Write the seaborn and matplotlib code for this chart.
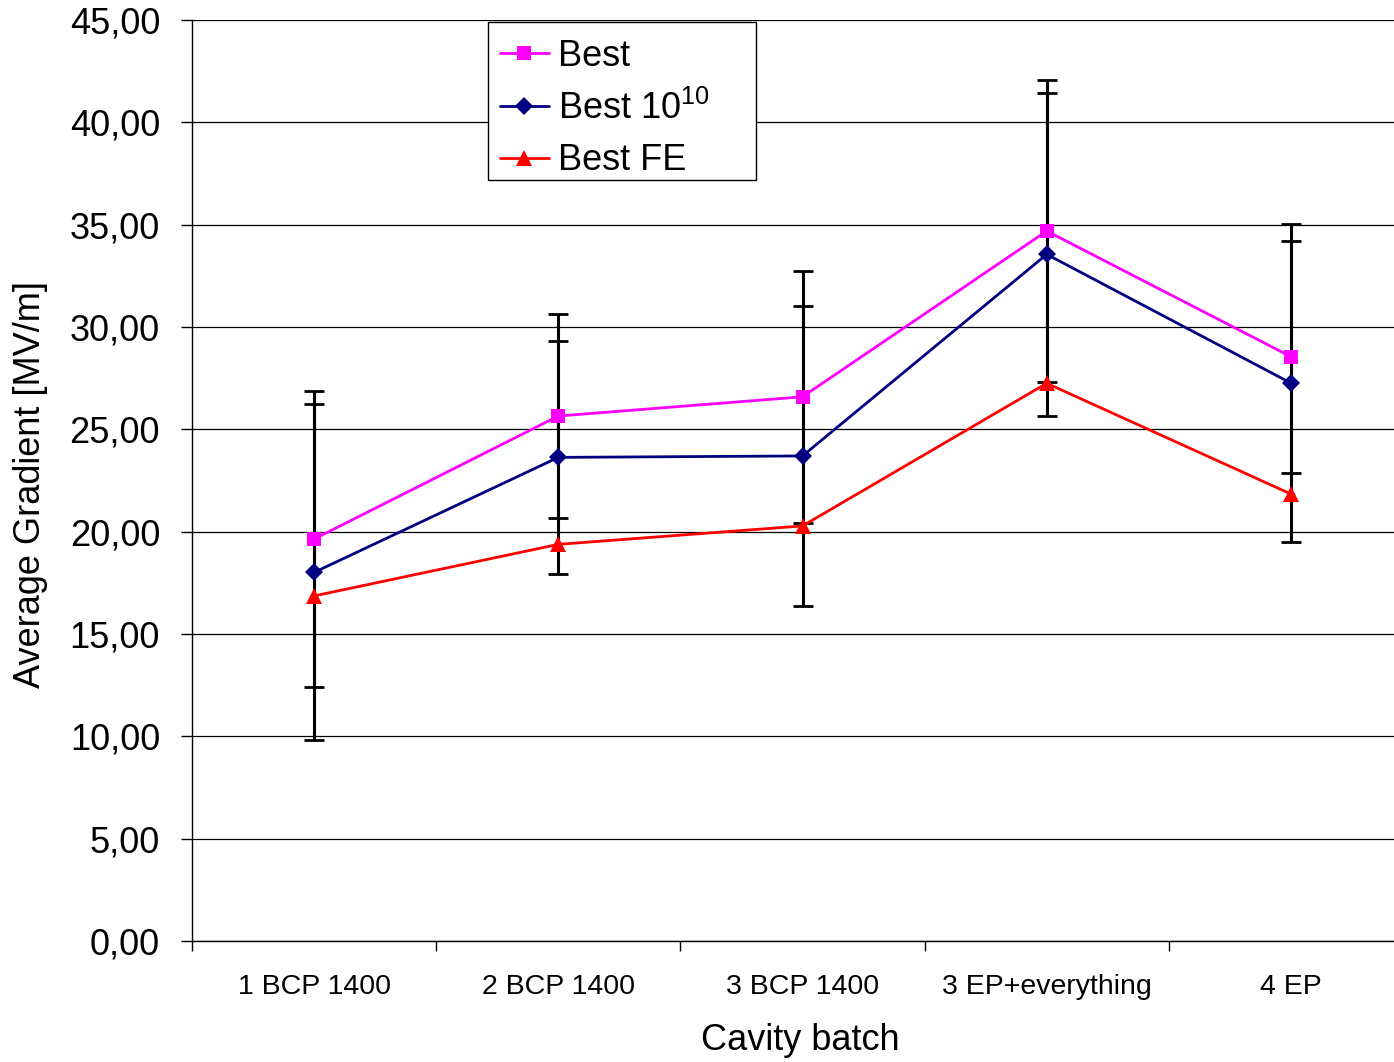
import numpy as np
import pandas as pd
import matplotlib
matplotlib.use("Agg")
import matplotlib.pyplot as plt
from matplotlib.patches import Rectangle
import seaborn as sns

categories = ["1 BCP 1400", "2 BCP 1400", "3 BCP 1400", "3 EP+everything", "4 EP"]
best = [19.64, 25.65, 26.59, 34.69, 28.55]
best_1010 = [18.01, 23.63, 23.70, 33.55, 27.26]
best_fe = [16.86, 19.38, 20.28, 27.25, 21.84]
err_best = [7.22, 4.97, 6.15, 7.37, 5.66]
err_best_1010 = [8.21, 5.69, 7.35, 7.90, 7.75]
series_names = ["Best", "Best 10$^{10}$", "Best FE"]
yticks = [0, 5, 10, 15, 20, 25, 30, 35, 40, 45]

sns.set_theme(style="white")
plt.rcParams["font.family"] = ["Liberation Sans", "DejaVu Sans"]
plt.rcParams["mathtext.fontset"] = "custom"
plt.rcParams["mathtext.rm"] = "Liberation Sans"
plt.rcParams["mathtext.it"] = "Liberation Sans"
plt.rcParams["text.color"] = "black"
plt.rcParams["axes.labelcolor"] = "black"
plt.rcParams["xtick.color"] = "black"
plt.rcParams["ytick.color"] = "black"

df = pd.DataFrame({
    "batch": categories * 3,
    "value": best + best_1010 + best_fe,
    "series": [series_names[0]] * 5 + [series_names[1]] * 5 + [series_names[2]] * 5,
})

W, H = 1394, 1062
L, R, T, B = 192, 1413, 20, 941
fig = plt.figure(figsize=(W / 100, H / 100), dpi=100)
ax = fig.add_axes([L / W, 1 - B / H, (R - L) / W, (B - T) / H])
aw, ah = R - L, B - T

pos = np.arange(len(categories))
for vals, errs in [(best, err_best), (best_1010, err_best_1010)]:
    ax.errorbar(pos, vals, yerr=errs, fmt="none", ecolor="black", elinewidth=2.2,
                capsize=7, capthick=2.0, zorder=2)

palette = {series_names[0]: "#FF00FF", series_names[1]: "#000080", series_names[2]: "#FF0000"}
markers = {series_names[0]: "s", series_names[1]: "D", series_names[2]: "^"}
sns.lineplot(data=df, x="batch", y="value", hue="series", style="series",
             palette=palette, markers=markers, dashes=False, linewidth=2.0,
             markersize=10.5, markeredgewidth=0, sort=False, ax=ax, zorder=3)

for line in ax.get_lines():
    if line.get_marker() == "D":
        line.set_markersize(9)
    elif line.get_marker() == "^":
        line.set_markersize(11.5)

ax.set_xlim(-0.5, len(categories) - 0.5)
ax.set_ylim(0, 45)
ax.set_yticks(yticks)
ax.set_yticklabels([f"{v:.2f}".replace(".", ",") for v in yticks], fontsize=26)
ax.yaxis.grid(True, color="black", linewidth=0.9)
ax.xaxis.grid(False)
ax.set_axisbelow(True)

ax.set_xticks(np.arange(-0.5, len(categories) + 0.5, 1.0))
ax.set_xticklabels([])
ax.set_xticks(pos, minor=True)
ax.set_xticklabels(categories, minor=True, fontsize=20.5)
ax.tick_params(axis="x", which="major", direction="out", length=7, width=1, color="black", bottom=True)
ax.tick_params(axis="x", which="minor", length=0, pad=24)
ax.tick_params(axis="y", direction="out", length=8, width=1, color="black", left=True, pad=15)

for s in ["top", "right"]:
    ax.spines[s].set_visible(False)
for s in ["left", "bottom"]:
    ax.spines[s].set_color("black")
    ax.spines[s].set_linewidth(1.0)

ax.set_xlabel("Cavity batch", fontsize=26)
ax.set_ylabel("Average Gradient [MV/m]", fontsize=26)
ax.xaxis.set_label_coords((800 - L) / aw, -(1041 - B) / ah)
ax.xaxis.label.set_va("center")
ax.yaxis.set_label_coords(-(L - 31) / aw, (B - 485) / ah)
ax.yaxis.label.set_va("center")

# legend box (Excel-style, with extra room on the right)
lx0, ly0, lx1, ly1 = 488, 22, 756, 180
ax.add_patch(Rectangle(((lx0 - L) / aw, (B - ly1) / ah), (lx1 - lx0) / aw, (ly1 - ly0) / ah,
                       transform=ax.transAxes, facecolor="white", edgecolor="black",
                       linewidth=1.0, zorder=4.5, clip_on=False))
handles, labels = ax.get_legend_handles_labels()
leg = ax.legend(handles, labels, loc="upper left",
                bbox_to_anchor=((lx0 - L) / aw, (B - ly0 - 5) / ah),
                fontsize=26, frameon=False, handlelength=1.35, handletextpad=0.25,
                borderpad=0.33, labelspacing=0.46, borderaxespad=0)
leg.set_zorder(5)

fig.savefig("out.png", dpi=100)
